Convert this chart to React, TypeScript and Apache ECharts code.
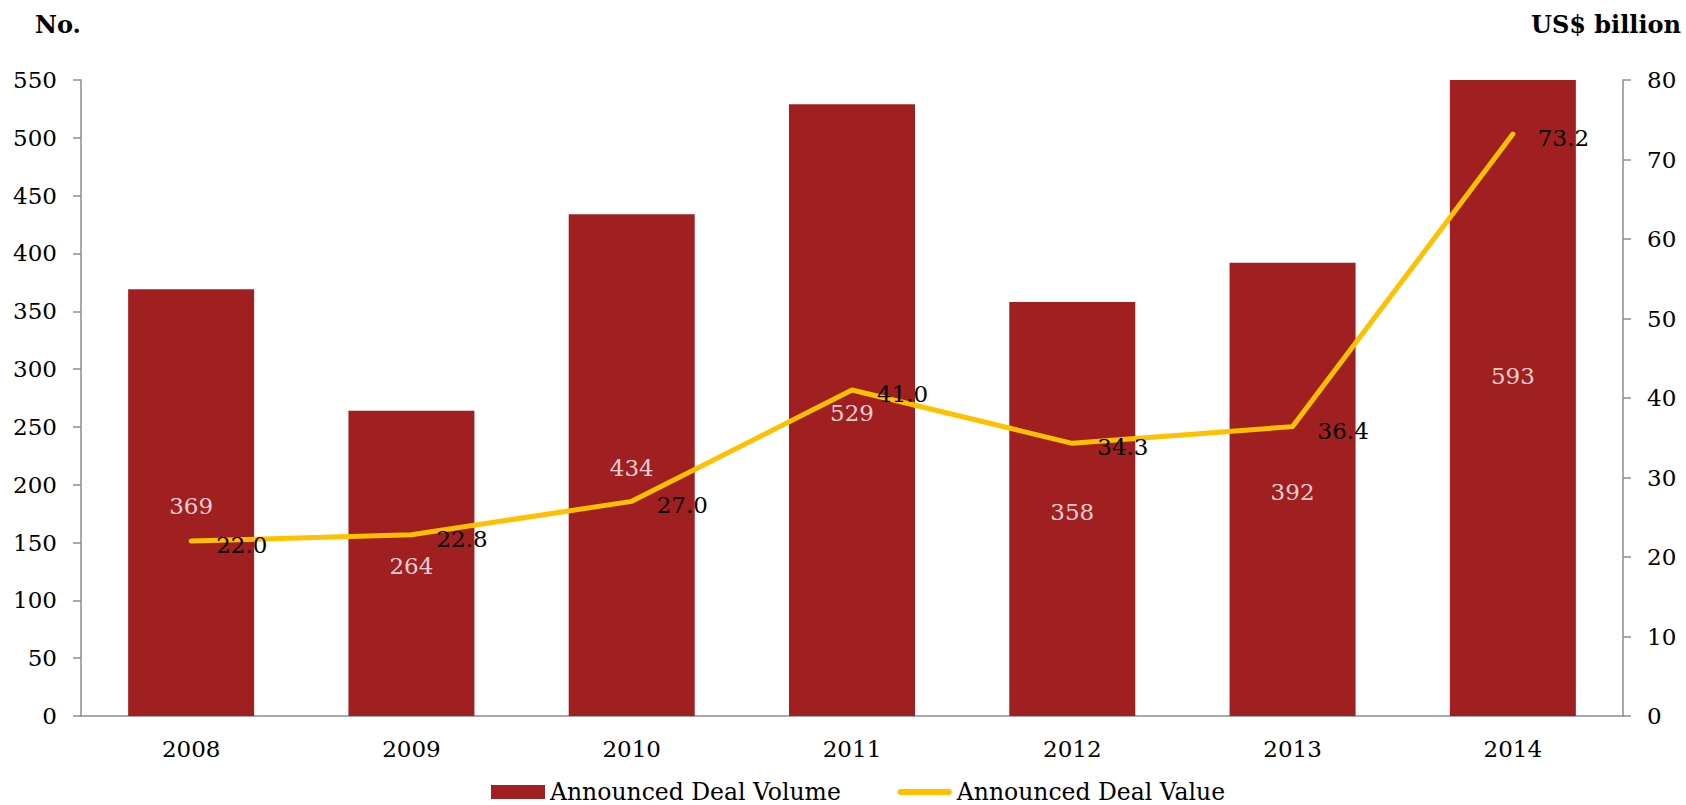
import React, { useEffect, useRef } from "react";
import * as echarts from "echarts";

const years = ["2008", "2009", "2010", "2011", "2012", "2013", "2014"];
const dealVolume = [369, 264, 434, 529, 358, 392, 593];
const dealValue = [22.0, 22.8, 27.0, 41.0, 34.3, 36.4, 73.2];
const leftTitle = "No.";
const rightTitle = "US$ billion";
const volumeName = "Announced Deal Volume";
const valueName = "Announced Deal Value";

const FONT = '"DejaVu Serif", Georgia, serif';
const BAR_COLOR = "#A02022";
const LINE_COLOR = "#FFC000";

export default function App() {
  const ref = useRef<HTMLDivElement>(null);
  useEffect(() => {
    document.body.style.margin = "0";
    const chart = echarts.init(ref.current!, null, { renderer: "svg" });
    const axisLineStyle = { color: "#8c8c8c", width: 1.5 };
    chart.setOption({
      animation: false,
      textStyle: { fontFamily: FONT },
      title: [
        {
          text: leftTitle,
          left: 35,
          top: 12,
          padding: 0,
          textStyle: { fontFamily: FONT, fontSize: 24, fontWeight: "bold", color: "#000" },
        },
        {
          text: rightTitle,
          right: 5,
          top: 12,
          padding: 0,
          textStyle: { fontFamily: FONT, fontSize: 24, fontWeight: "bold", color: "#000" },
        },
      ],
      legend: {
        top: 780,
        left: 491,
        padding: 0,
        itemWidth: 54,
        itemHeight: 14,
        itemGap: 57,
        textStyle: { fontFamily: FONT, fontSize: 23.5, color: "#000" },
        data: [
          { name: volumeName, icon: "rect", itemStyle: { color: BAR_COLOR } },
          {
            name: valueName,
            icon: "path://M3,0 H51 A3,3 0 0 1 51,6 H3 A3,3 0 0 1 3,0 Z",
            itemStyle: { color: LINE_COLOR, borderWidth: 0 },
          },
        ],
      },
      grid: { left: 81, right: 63, top: 80, bottom: 89 },
      xAxis: {
        type: "category",
        data: years,
        axisLine: { lineStyle: axisLineStyle },
        axisTick: { show: false },
        axisLabel: { color: "#000", fontSize: 23, fontFamily: FONT, margin: 21 },
      },
      yAxis: [
        {
          type: "value",
          min: 0,
          max: 550,
          interval: 50,
          splitLine: { show: false },
          axisLine: { show: true, lineStyle: axisLineStyle },
          axisTick: { show: true, length: 8, lineStyle: axisLineStyle },
          axisLabel: { color: "#000", fontSize: 23, fontFamily: FONT, margin: 24 },
        },
        {
          type: "value",
          min: 0,
          max: 80,
          interval: 10,
          splitLine: { show: false },
          axisLine: { show: true, lineStyle: axisLineStyle },
          axisTick: { show: true, length: 8, lineStyle: axisLineStyle },
          axisLabel: { color: "#000", fontSize: 23, fontFamily: FONT, margin: 24 },
        },
      ],
      series: [
        {
          name: volumeName,
          type: "bar",
          yAxisIndex: 0,
          data: dealVolume,
          barWidth: 126,
          clip: true,
          itemStyle: { color: BAR_COLOR },
          z: 2,
        },
        {
          name: "volumeLabels",
          type: "scatter",
          yAxisIndex: 0,
          symbolSize: 0,
          silent: true,
          data: dealVolume.map((v, i) => [i, v / 2, v]),
          label: {
            show: true,
            position: "inside",
            color: "#fff",
            fontSize: 23,
            fontFamily: FONT,
            offset: [0, 3],
            formatter: (p: any) => String(p.value[2]),
          },
          z: 3,
        },
        {
          name: valueName,
          type: "line",
          yAxisIndex: 1,
          data: dealValue,
          showSymbol: true,
          symbol: "circle",
          symbolSize: 0.01,
          lineStyle: { color: LINE_COLOR, width: 5, cap: "round", join: "round" },
          itemStyle: { color: LINE_COLOR },
          label: {
            show: true,
            position: "right",
            distance: 25,
            offset: [0, 4],
            color: "#000",
            fontSize: 23,
            fontFamily: FONT,
            formatter: (p: any) => Number(p.value).toFixed(1),
          },
          z: 4,
        },
      ],
    });
    return () => chart.dispose();
  }, []);
  return (
    <div
      ref={ref}
      style={{ position: "absolute", left: 0, top: 0, width: 1686, height: 805, background: "#fff" }}
    />
  );
}
